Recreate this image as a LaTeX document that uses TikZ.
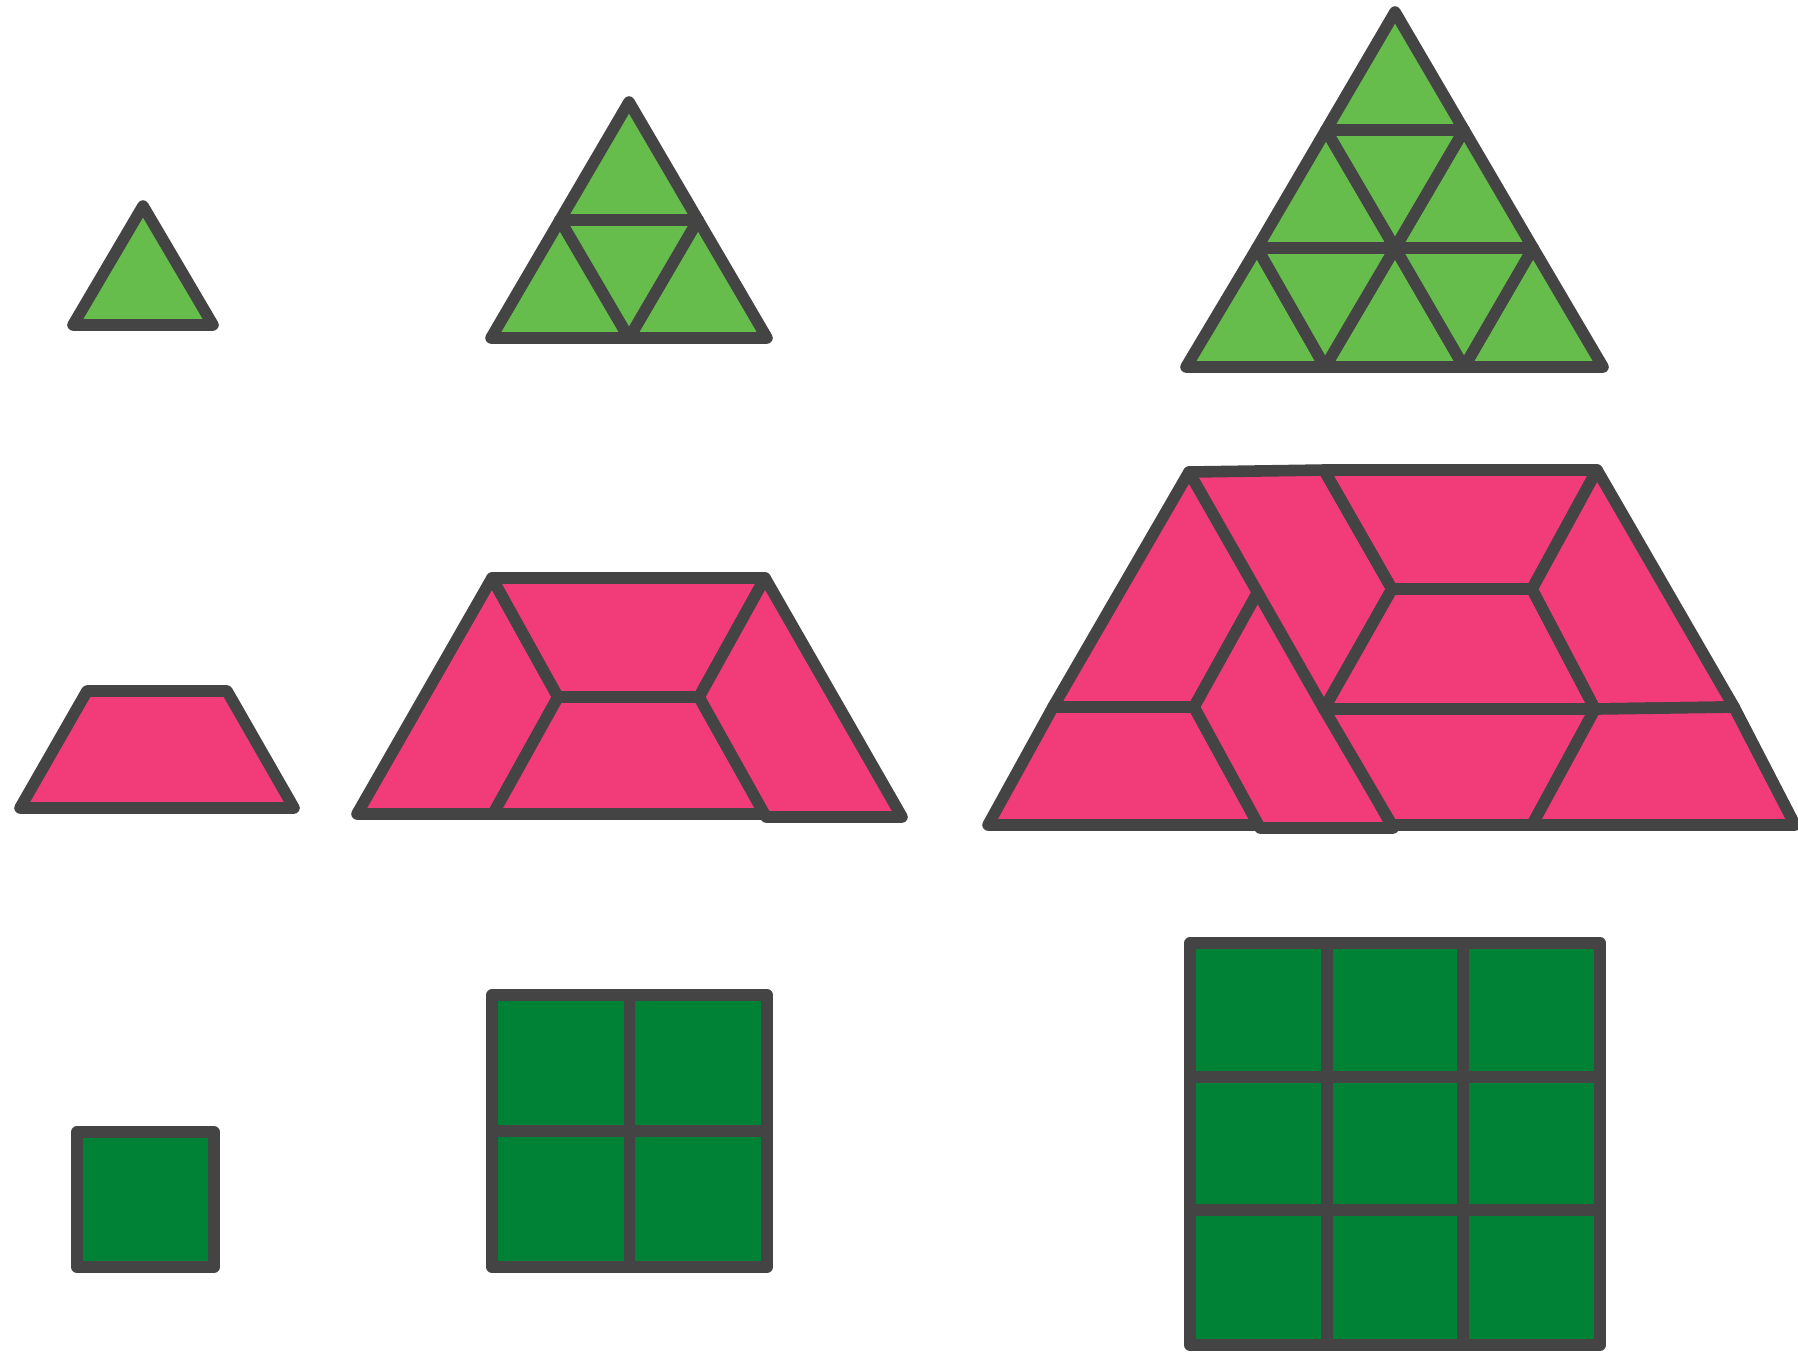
\documentclass[tikz,border=0pt]{standalone}
\definecolor{lg}{HTML}{66BD4B}
\definecolor{pk}{HTML}{F23C7A}
\definecolor{dg}{HTML}{008236}
\definecolor{ln}{HTML}{444444}
\begin{document}
\begin{tikzpicture}[x=0.01cm,y=-0.01cm,
  piece/.style={draw=ln,line width=3.3pt,line join=round,line cap=round},
  tri/.style={piece,fill=lg},
  trap/.style={piece,fill=pk},
  sq/.style={piece,fill=dg}]
\useasboundingbox (0,0) rectangle (1798,1353);

% ---------- triangles ----------
% small
\coordinate (sa) at (143,206);
\coordinate (sb) at (73,325);
\coordinate (sc) at (213,325);
\draw[tri] (sa) -- (sc) -- (sb) -- cycle;

% medium
\coordinate (mt) at (629,102);
\coordinate (ml) at (560,220);
\coordinate (mr) at (698,220);
\coordinate (mb0) at (491,338);
\coordinate (mb1) at (629,338);
\coordinate (mb2) at (767,338);
\draw[tri] (mt) -- (mr) -- (ml) -- cycle;
\draw[tri] (ml) -- (mb1) -- (mb0) -- cycle;
\draw[tri] (mr) -- (mb2) -- (mb1) -- cycle;
\draw[tri] (ml) -- (mr) -- (mb1) -- cycle;

% large
\coordinate (lt) at (1395,12);
\coordinate (l1a) at (1326,130);
\coordinate (l1b) at (1464,130);
\coordinate (l2a) at (1257,248);
\coordinate (l2b) at (1395,248);
\coordinate (l2c) at (1533,248);
\coordinate (lb0) at (1186,367);
\coordinate (lb1) at (1325,367);
\coordinate (lb2) at (1464,367);
\coordinate (lb3) at (1603,367);
\draw[tri] (lt) -- (l1b) -- (l1a) -- cycle;
\draw[tri] (l1a) -- (l2b) -- (l2a) -- cycle;
\draw[tri] (l1b) -- (l2c) -- (l2b) -- cycle;
\draw[tri] (l2a) -- (lb1) -- (lb0) -- cycle;
\draw[tri] (l2b) -- (lb2) -- (lb1) -- cycle;
\draw[tri] (l2c) -- (lb3) -- (lb2) -- cycle;
\draw[tri] (l1a) -- (l1b) -- (l2b) -- cycle;
\draw[tri] (l2a) -- (l2b) -- (lb1) -- cycle;
\draw[tri] (l2b) -- (l2c) -- (lb2) -- cycle;

% ---------- trapezoids ----------
% small
\coordinate (ta) at (87,691);
\coordinate (tb) at (227,691);
\coordinate (tc) at (294,808);
\coordinate (td) at (20,808);
\draw[trap] (td) -- (ta) -- (tb) -- (tc) -- cycle;

% medium
\coordinate (pa) at (492,578);
\coordinate (pb) at (765,578);
\coordinate (pc) at (558,697);
\coordinate (pd) at (699,697);
\coordinate (pe) at (357,814);
\coordinate (pf) at (493,814);
\coordinate (pg) at (765,814);
\coordinate (pg2) at (766,817);
\coordinate (ph) at (902,817);
\draw[trap] (pe) -- (pa) -- (pc) -- (pf) -- cycle;
\draw[trap] (pa) -- (pb) -- (pd) -- (pc) -- cycle;
\draw[trap] (pc) -- (pd) -- (pg) -- (pf) -- cycle;
\draw[trap] (pb) -- (ph) -- (pg2) -- (pd) -- cycle;

% large
\coordinate (A) at (1189,472);
\coordinate (B) at (1324,470);
\coordinate (C) at (1597,470);
\coordinate (D) at (1392,589);
\coordinate (E) at (1532,589);
\coordinate (F) at (1259,590);
\coordinate (G) at (1053,707);
\coordinate (H) at (1194,707);
\coordinate (I) at (1324,709);
\coordinate (J) at (1595,709);
\coordinate (K) at (1734,707);
\coordinate (L) at (988,825);
\coordinate (M) at (1259,825);
\coordinate (M2) at (1260,828);
\coordinate (N) at (1392,825);
\coordinate (N2) at (1393,828);
\coordinate (O) at (1532,825);
\coordinate (P) at (1795,825);
\draw[trap] (A) -- (F) -- (H) -- (G) -- cycle;
\draw[trap] (G) -- (H) -- (M) -- (L) -- cycle;
\draw[trap] (F) -- (N2) -- (M2) -- (H) -- cycle;
\draw[trap] (A) -- (B) -- (D) -- (I) -- cycle;
\draw[trap] (B) -- (C) -- (E) -- (D) -- cycle;
\draw[trap] (D) -- (E) -- (J) -- (I) -- cycle;
\draw[trap] (C) -- (K) -- (J) -- (E) -- cycle;
\draw[trap] (I) -- (J) -- (O) -- (N) -- cycle;
\draw[trap] (J) -- (K) -- (P) -- (O) -- cycle;

% ---------- squares ----------
% small
\coordinate (qa) at (77,1132);
\coordinate (qb) at (214,1267);
\draw[sq] (qa) rectangle (qb);

% medium
\foreach \xa/\xb in {492/629.5,629.5/767}
  \foreach \ya/\yb in {995/1131,1131/1267}
    \draw[sq] (\xa,\ya) rectangle (\xb,\yb);

% large
\foreach \xa/\xb in {1190/1327,1327/1463,1463/1600}
  \foreach \ya/\yb in {943/1077,1077/1210,1210/1345}
    \draw[sq] (\xa,\ya) rectangle (\xb,\yb);
\end{tikzpicture}
\end{document}
